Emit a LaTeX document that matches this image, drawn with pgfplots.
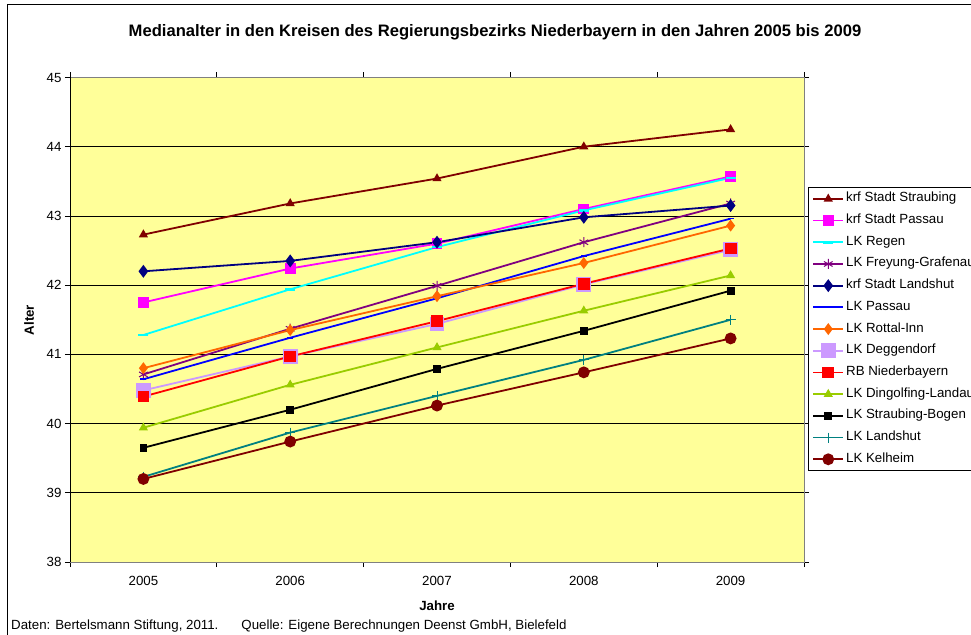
\documentclass[border=0pt]{standalone}
\usepackage{fontspec}
\setmainfont{Liberation Sans}
\usepackage{pgfplots}
\pgfplotsset{compat=1.18}
\definecolor{plotyellow}{HTML}{FFFF99}
\definecolor{cStraub}{HTML}{800000}
\definecolor{cPassau}{HTML}{FF00FF}
\definecolor{cRegen}{HTML}{00FFFF}
\definecolor{cFreyung}{HTML}{800080}
\definecolor{cLandshut}{HTML}{000080}
\definecolor{cLKPassau}{HTML}{0000FF}
\definecolor{cRottal}{HTML}{FF6600}
\definecolor{cDegg}{HTML}{CC99FF}
\definecolor{cRB}{HTML}{FF0000}
\definecolor{cDingo}{HTML}{99CC00}
\definecolor{cSB}{HTML}{000000}
\definecolor{cLKLandshut}{HTML}{008080}
\definecolor{cKelheim}{HTML}{800000}
\newcommand\chartfont{\fontsize{13.3}{15}\selectfont}
\begin{document}
\begin{tikzpicture}
\path[use as bounding box] (0pt,0pt) rectangle (971pt,634pt);
\begin{scope}
\clip (0pt,0pt) rectangle (971pt,634pt);
\fill[white] (0pt,0pt) rectangle (971pt,634pt);
\draw[line width=1pt] (7pt,-10pt) -- (7pt,629pt) -- (990pt,629pt);
\begin{axis}[
  at={(70pt,72pt)}, anchor=south west, scale only axis,
  width=734pt, height=484.5pt,
  xmin=-0.5, xmax=4.5, ymin=38, ymax=45,
  xtick={0,1,2,3,4}, xticklabels={2005,2006,2007,2008,2009},
  minor xtick={-0.5,0.5,1.5,2.5,3.5,4.5},
  major x tick style={draw=none},
  minor x tick style={black, line width=0.8pt},
  ytick={38,39,...,45},
  y tick style={black, line width=0.8pt},
  tick align=outside, major tick length=5pt, minor tick length=5pt,
  ymajorgrids, major grid style={black, line width=0.8pt},
  axis background/.style={fill=plotyellow},
  axis line style={draw=gray, line width=0.8pt},
  tick label style={font=\chartfont},
  /pgf/number format/assume math mode=true,
  xticklabel style={yshift=-6pt},
  every axis plot/.append style={line width=1.8pt},
  legend cell align=left,
  legend image code/.code={\draw[mark repeat=2,mark phase=2,#1] plot coordinates {(0pt,0pt) (15pt,0pt) (30pt,0pt)};},
  legend style={at={(1.0054,0.773)}, anchor=north west, draw=black, line width=0.8pt, fill=white,
    inner xsep=4pt, inner ysep=3.5pt, row sep=6.7pt, font=\chartfont,
    nodes={text height=8.5pt, text depth=2.5pt, inner sep=2pt}},
]
\addplot[color=cStraub, mark=triangle*, mark size=3.5] coordinates {(0,42.73) (1,43.18) (2,43.54) (3,44.00) (4,44.25)};
\addlegendentry{krf Stadt Straubing}
\addplot[color=cPassau, mark=square*, mark size=4.5] coordinates {(0,41.75) (1,42.24) (2,42.60) (3,43.10) (4,43.57)};
\addlegendentry{krf Stadt Passau}
\addplot[color=cRegen, mark=-, mark size=5, mark options={line width=2.5pt}] coordinates {(0,41.28) (1,41.94) (2,42.55) (3,43.08) (4,43.55)};
\addlegendentry{LK Regen}
\addplot[color=cFreyung, mark=asterisk, mark size=5, mark options={line width=1pt}] coordinates {(0,40.71) (1,41.37) (2,41.99) (3,42.62) (4,43.18)};
\addlegendentry{LK Freyung-Grafenau}
\addplot[color=cLandshut, mark=diamond*, mark size=5] coordinates {(0,42.20) (1,42.35) (2,42.62) (3,42.98) (4,43.15)};
\addlegendentry{krf Stadt Landshut}
\addplot[color=cLKPassau, mark=-, mark size=3, mark options={line width=1.6pt}] coordinates {(0,40.64) (1,41.24) (2,41.81) (3,42.42) (4,42.96)};
\addlegendentry{LK Passau}
\addplot[color=cRottal, mark=diamond*, mark size=4.5] coordinates {(0,40.80) (1,41.35) (2,41.84) (3,42.32) (4,42.86)};
\addlegendentry{LK Rottal-Inn}
\addplot[color=cDegg, mark=square*, mark size=6.5] coordinates {(0,40.48) (1,40.97) (2,41.44) (3,42.01) (4,42.51)};
\addlegendentry{LK Deggendorf}
\addplot[color=cRB, mark=square*, mark size=5] coordinates {(0,40.39) (1,40.97) (2,41.48) (3,42.02) (4,42.53)};
\addlegendentry{RB Niederbayern}
\addplot[color=cDingo, mark=triangle*, mark size=3.5] coordinates {(0,39.94) (1,40.56) (2,41.10) (3,41.63) (4,42.14)};
\addlegendentry{LK Dingolfing-Landau}
\addplot[color=cSB, mark=square*, mark size=3] coordinates {(0,39.65) (1,40.20) (2,40.79) (3,41.34) (4,41.92)};
\addlegendentry{LK Straubing-Bogen}
\addplot[color=cLKLandshut, mark=+, mark size=5, mark options={line width=1pt}] coordinates {(0,39.23) (1,39.87) (2,40.40) (3,40.92) (4,41.50)};
\addlegendentry{LK Landshut}
\addplot[color=cKelheim, mark=*, mark size=5] coordinates {(0,39.20) (1,39.74) (2,40.26) (3,40.74) (4,41.23)};
\addlegendentry{LK Kelheim}
\draw[black, line width=0.8pt] (rel axis cs:0,1) -- (rel axis cs:0,0) -- (rel axis cs:1,0);
\end{axis}
\node[font=\bfseries\fontsize{16.6}{19}\selectfont] at (495pt,602pt) {Medianalter in den Kreisen des Regierungsbezirks Niederbayern in den Jahren 2005 bis 2009};
\node[font=\bfseries\chartfont, rotate=90] at (29pt,314pt) {Alter};
\node[font=\bfseries\chartfont] at (437pt,28pt) {Jahre};
\node[font=\chartfont, anchor=base west, inner sep=0pt] at (11pt,5pt) {Daten: Bertelsmann Stiftung, 2011.\hspace{23pt}Quelle: Eigene Berechnungen Deenst GmbH, Bielefeld};
\end{scope}
\end{tikzpicture}
\end{document}
